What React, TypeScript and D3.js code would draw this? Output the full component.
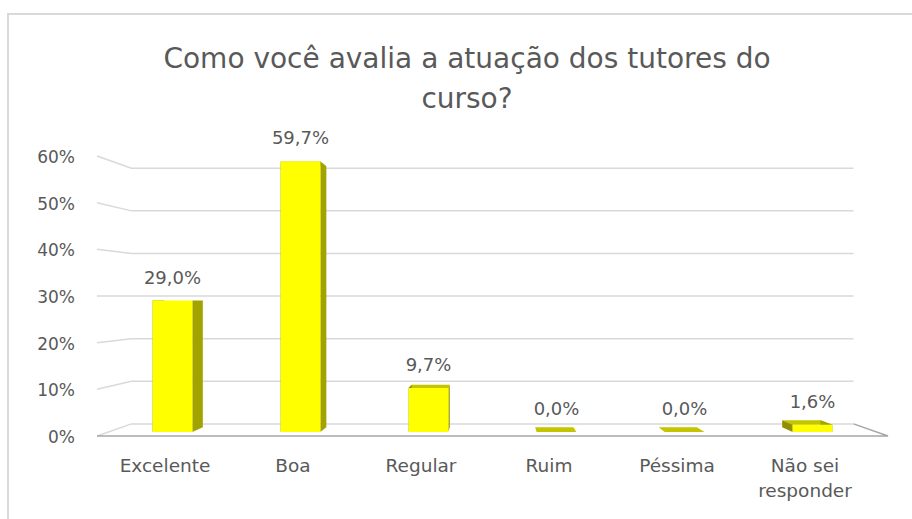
import React from 'react';
import * as d3 from 'd3';

// data
const categories = ['Excelente', 'Boa', 'Regular', 'Ruim', 'Péssima', 'Não sei responder'];
const values = [29.0, 59.7, 9.7, 0.0, 0.0, 1.6];
const yTicks = [0, 10, 20, 30, 40, 50, 60];
const titleLines = ['Como você avalia a atuação dos tutores do', 'curso?'];

const W = 912;
const H = 519;

// simple one-point perspective for the Excel-like 3D look
const vx = 492.5;
const vy = 297;
const sWall = 0.913; // back wall depth
const sFront = 0.971; // bar front depth
const sBack = 0.937; // bar back depth

const TEXT = '#595959';
const GRID = '#d9d9d9';
const FONT = "'DejaVu Sans', 'Liberation Sans', sans-serif";

const ptBr = d3.formatLocale({ decimal: ',', thousands: '.', grouping: [3], currency: ['R$', ''] });
const fmtValue = (v: number) => ptBr.format('.1f')(v) + '%';

function wrap(label: string, maxChars: number) {
  const words = label.split(' ');
  const lines: string[] = [];
  let cur = '';
  words.forEach(w => {
    const next = cur ? cur + ' ' + w : w;
    if (next.length > maxChars && cur) {
      lines.push(cur);
      cur = w;
    } else cur = next;
  });
  if (cur) lines.push(cur);
  return lines;
}

export default function App() {
  // front plane scales
  const x = d3.scaleBand<string>().domain(categories).range([97, 888]).padding(0);
  const xLabel = d3.scaleBand<string>().domain(categories).range([101, 869]).padding(0);
  const y = d3.scaleLinear().domain([0, 60]).range([436, 156]);

  const P = (X: number, v: number, s: number): [number, number] => [
    vx + s * (X - vx),
    vy + s * (y(v) - vy),
  ];
  const poly = (pts: [number, number][]) => pts.map(p => p.join(',')).join(' ');

  const x0 = x.range()[0];
  const x1 = x.range()[1];
  const barW = x.bandwidth() * 0.31;

  return (
    <svg width={W} height={H} style={{ position: 'absolute', left: 0, top: 0, background: '#fff' }}>
      <rect x={8} y={14} width={W + 20} height={H + 20} fill="#fff" stroke={GRID} strokeWidth={2} />

      {titleLines.map((t, i) => (
        <text key={t} x={467} y={68 + i * 40} textAnchor="middle" fontFamily={FONT} fontSize={28} fill={TEXT}>
          {t}
        </text>
      ))}

      {/* back wall gridlines and side wall lines */}
      {yTicks.map(t => {
        const a = P(x0, t, 1);
        const b = P(x0, t, sWall);
        const c = P(x1, t, sWall);
        return (
          <g key={t}>
            <polyline points={poly([a, b, c])} fill="none" stroke={GRID} strokeWidth={1.5} />
            <text x={75} y={a[1] + 2} textAnchor="end" dominantBaseline="middle" fontFamily={FONT} fontSize={17} fill={TEXT}>
              {t}%
            </text>
          </g>
        );
      })}

      {/* floor front edge */}
      <polyline
        points={poly([P(x0, 0, 1), P(x1, 0, 1), P(x1, 0, sWall)])}
        fill="none"
        stroke="#a6a6a6"
        strokeWidth={1.5}
      />

      {/* bars */}
      {categories.map((c, i) => {
        const v = values[i];
        const l = (x(c) as number) + (x.bandwidth() - barW) / 2;
        const r = l + barW;
        const ft = [P(l, v, sFront), P(r, v, sFront)];
        const fb = [P(l, 0, sFront), P(r, 0, sFront)];
        const bt = [P(l, v, sBack), P(r, v, sBack)];
        const bb = [P(l, 0, sBack), P(r, 0, sBack)];
        const cx = (ft[0][0] + ft[1][0]) / 2;
        return (
          <g key={c}>
            <polygon points={poly([ft[0], ft[1], bt[1], bt[0]])} fill="#c4c400" />
            <polygon points={poly([ft[1], bt[1], bb[1], fb[1]])} fill="#a3a300" />
            <polygon points={poly([ft[0], bt[0], bb[0], fb[0]])} fill="#8f8f00" />
            <polygon points={poly([ft[0], ft[1], fb[1], fb[0]])} fill="#ffff00" />
            <text x={cx} y={ft[0][1] - 17} textAnchor="middle" fontFamily={FONT} fontSize={18} fill={TEXT}>
              {fmtValue(v)}
            </text>
          </g>
        );
      })}

      {/* category labels */}
      {categories.map(c => (
        <text
          key={c}
          x={(xLabel(c) as number) + xLabel.bandwidth() / 2}
          y={472}
          textAnchor="middle"
          fontFamily={FONT}
          fontSize={18.5}
          fill={TEXT}
        >
          {wrap(c, 10).map((line, j) => (
            <tspan key={j} x={(xLabel(c) as number) + xLabel.bandwidth() / 2} dy={j === 0 ? 0 : 25}>
              {line}
            </tspan>
          ))}
        </text>
      ))}
    </svg>
  );
}
